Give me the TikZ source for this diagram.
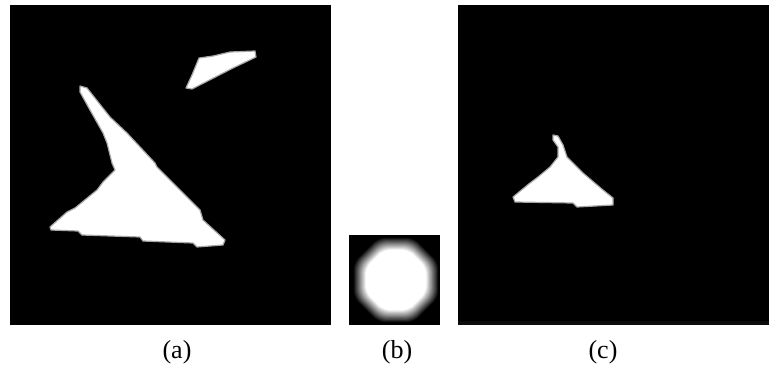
\documentclass[tikz,border=0pt]{standalone}
\usepackage{fontspec}
\setmainfont{Liberation Serif}

\begin{document}
\begin{tikzpicture}[x=1pt, y=-1pt,
		panel/.style = {fill=black},
		blob/.style = {fill=white, draw=white!65!black, line width=1.2pt, line join=round},
		caption/.style = {anchor=base, font=\fontsize{26}{30}\selectfont, inner sep=0pt}]
	\useasboundingbox (0,0) rectangle (771,370);
	% (a)
	\fill[panel] (10,5) rectangle (331,325);
	\filldraw[blob] (80,86) -- (87,88) -- (110,117) -- (127,133) -- (155,163) -- (157,167)
		-- (177,187) -- (200,210) -- (203,220) -- (225,240) -- (223,245) -- (197,247)
		-- (193,243) -- (143,241) -- (140,237) -- (82,235) -- (78,231) -- (51,230)
		-- (50,227) -- (67,212) -- (75,208) -- (97,190) -- (103,182) -- (115,170)
		-- (112,163) -- (107,143) -- (103,133) -- (90,110) -- (80,92) -- cycle;
	\filldraw[blob] (186,88) -- (192,75) -- (199,58) -- (213,56) -- (230,52) -- (255,51)
		-- (256,57) -- (233,68) -- (192,89) -- cycle;
	% (b)
	\fill[panel] (349,235) rectangle (440,325);
	\foreach \k in {0,...,16} {
		\pgfmathsetmacro\rr{(43-\k*0.8)*1.0824}
		\pgfmathsetmacro\ww{\k*100/16}
		\fill[white!\ww!black, shift={(396,280)}, rounded corners=7pt]
			(22.5:\rr) -- (67.5:\rr) -- (112.5:\rr) -- (157.5:\rr) -- (202.5:\rr)
			-- (247.5:\rr) -- (292.5:\rr) -- (337.5:\rr) -- cycle;
	}
	% (c)
	\fill[panel] (458,5) rectangle (769,325);
	\fill[black!95] (458,321) rectangle (769,325);
	\filldraw[blob] (553,135) -- (558,136) -- (563,145) -- (567,157) -- (583,173) -- (603,190)
		-- (613,198) -- (613,205) -- (577,207) -- (573,203) -- (515,202) -- (513,197)
		-- (530,183) -- (538,177) -- (550,167) -- (558,157) -- (558,147) -- (553,140) -- cycle;
	% captions
	\node[caption] (la) at (177,358) {(a)};
	\node[caption] (lb) at (397,358) {(b)};
	\node[caption] (lc) at (603,358) {(c)};
\end{tikzpicture}
\end{document}
